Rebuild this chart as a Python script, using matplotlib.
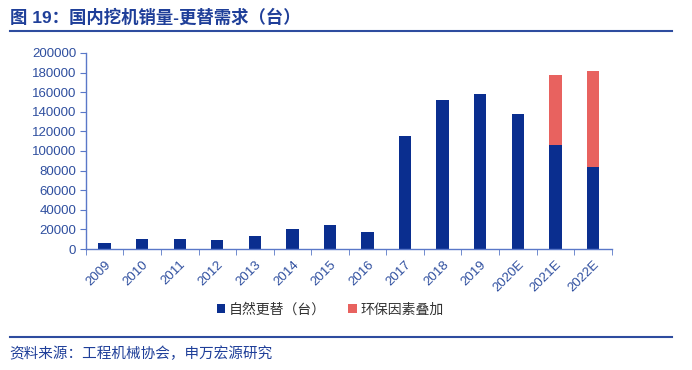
import matplotlib.pyplot as plt
import numpy as np

plt.rcParams['font.family'] = ['Liberation Sans', 'Noto Sans CJK SC', 'DejaVu Sans']

years = ['2009', '2010', '2011', '2012', '2013', '2014', '2015', '2016',
         '2017', '2018', '2019', '2020E', '2021E', '2022E']
natural = [6000, 10500, 10000, 9500, 13500, 20500, 24500, 17500,
           115000, 152000, 158000, 138000, 106000, 84000]
env_extra = [0, 0, 0, 0, 0, 0, 0, 0, 0, 0, 0, 0, 71000, 98000]

blue = '#0A2E8F'
red = '#E8625F'
axis_col = '#5A78C8'
text_col = '#2F4F9F'

fig = plt.figure(figsize=(6.92, 3.70), dpi=100)
ax = fig.add_axes([0.124, 0.327, 0.76, 0.53])

x = np.arange(len(years))
ax.bar(x, natural, width=0.33, color=blue, label='自然更替（台）')
ax.bar(x, env_extra, width=0.33, bottom=natural, color=red, label='环保因素叠加')

ax.set_xlim(-0.5, len(years) - 0.5)
ax.set_ylim(0, 200000)
ax.set_yticks(np.arange(0, 200001, 20000))
ax.set_yticklabels([str(v) for v in range(0, 200001, 20000)],
                   fontsize=9.5, color=text_col)

# x ticks sit between categories, labels at bar centres
ax.set_xticks(x)
ax.set_xticklabels(years, rotation=45, ha='right', rotation_mode='anchor',
                   fontsize=9.5, color=text_col)
ax.tick_params(axis='x', length=0, pad=7)
ax.set_xticks(np.arange(-0.5, len(years), 1), minor=True)
ax.tick_params(axis='x', which='minor', length=4, color=axis_col, direction='out')
ax.tick_params(axis='y', length=4, color=axis_col, direction='out', pad=3)

for s in ['top', 'right']:
    ax.spines[s].set_visible(False)
for s in ['left', 'bottom']:
    ax.spines[s].set_color(axis_col)
    ax.spines[s].set_linewidth(1.0)

leg = ax.legend(loc='center', bbox_to_anchor=(0.465, -0.31), ncol=2,
                frameon=False, fontsize=10, handlelength=0.6, handleheight=0.6,
                handletextpad=0.3, columnspacing=1.6)
for t in leg.get_texts():
    t.set_color('#333333')

# header and footer
fig.text(0.014, 0.953, '图 19：国内挖机销量-更替需求（台）', fontsize=12.5,
         fontweight='bold', color='#1F3F99', va='center', ha='left')
fig.add_artist(plt.Line2D([0.014, 0.971], [0.916, 0.916], color='#2E4C9F', lw=1.5))
fig.add_artist(plt.Line2D([0.014, 0.971], [0.089, 0.089], color='#2E4C9F', lw=1.5))
fig.text(0.014, 0.044, '资料来源：工程机械协会，申万宏源研究', fontsize=10.5,
         color='#1F3F99', va='center', ha='left')

fig.savefig('out.png', dpi=100)
